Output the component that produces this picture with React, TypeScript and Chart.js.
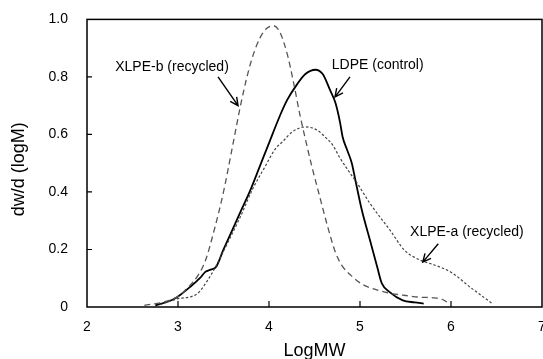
import React, { useEffect, useRef } from 'react';
import { Chart, registerables } from 'chart.js';

Chart.register(...registerables);

// ---- Data ----
const ldpeX = [2.75, 2.9, 2.99, 3.13, 3.24, 3.3, 3.36, 3.42, 3.5, 3.6, 3.7, 3.8, 3.9, 4.0, 4.12, 4.2, 4.31, 4.4, 4.51, 4.59, 4.67, 4.73, 4.78, 4.81, 4.86, 4.91, 4.95, 5.02, 5.11, 5.19, 5.24, 5.33, 5.47, 5.6, 5.7];
const ldpeY = [0.006, 0.02, 0.034, 0.069, 0.1, 0.122, 0.13, 0.14, 0.2, 0.27, 0.34, 0.41, 0.49, 0.57, 0.665, 0.72, 0.775, 0.81, 0.825, 0.81, 0.755, 0.71, 0.643, 0.59, 0.545, 0.5, 0.44, 0.337, 0.232, 0.138, 0.082, 0.051, 0.023, 0.016, 0.012];

const xlpeBX = [2.63, 2.85, 3.0, 3.1, 3.22, 3.3, 3.4, 3.5, 3.6, 3.7, 3.8, 3.9, 3.98, 4.05, 4.12, 4.2, 4.27, 4.34, 4.41, 4.47, 4.54, 4.64, 4.73, 4.8, 4.9, 5.03, 5.2, 5.33, 5.5, 5.66, 5.8, 5.9, 5.99];
const xlpeBY = [0.006, 0.018, 0.037, 0.065, 0.11, 0.16, 0.27, 0.4, 0.56, 0.72, 0.85, 0.935, 0.97, 0.978, 0.955, 0.88, 0.78, 0.668, 0.57, 0.49, 0.405, 0.285, 0.19, 0.145, 0.11, 0.078, 0.058, 0.048, 0.04, 0.034, 0.032, 0.027, 0.01];

const xlpeAX = [2.8, 2.99, 3.21, 3.32, 3.41, 3.54, 3.68, 3.82, 3.96, 4.07, 4.15, 4.26, 4.4, 4.53, 4.62, 4.7, 4.78, 4.87, 4.97, 5.11, 5.33, 5.49, 5.66, 5.78, 5.91, 6.02, 6.21, 6.45];
const xlpeAY = [0.008, 0.028, 0.046, 0.09, 0.138, 0.22, 0.31, 0.41, 0.49, 0.55, 0.575, 0.61, 0.626, 0.615, 0.59, 0.563, 0.518, 0.475, 0.43, 0.36, 0.267, 0.197, 0.163, 0.15, 0.135, 0.117, 0.069, 0.013];

const xTickValues = [2, 3, 4, 5, 6, 7];
const yTickValues = [0, 0.2, 0.4, 0.6, 0.8, 1.0];

const xTitle = 'LogMW';
const yTitle = 'dw/d (logM)';

// annotation text and arrows in data coordinates
const annotations = [
  { text: 'XLPE-b (recycled)', tx: 2.31, ty: 0.833, ax0: 3.44, ay0: 0.8, ax1: 3.66, ay1: 0.7 },
  { text: 'LDPE (control)', tx: 4.69, ty: 0.84, ax0: 4.89, ay0: 0.8, ax1: 4.725, ay1: 0.73 },
  { text: 'XLPE-a (recycled)', tx: 5.55, ty: 0.26, ax0: 5.86, ay0: 0.22, ax1: 5.69, ay1: 0.156 },
];

const FONT = "'Liberation Sans', Arial, sans-serif";

const toPts = (xs: number[], ys: number[]) => xs.map((x, i) => ({ x, y: ys[i] }));

const framePlugin = {
  id: 'frameAndText',
  afterDraw(chart: any) {
    const { ctx, chartArea, scales } = chart;
    const { left, right, top, bottom } = chartArea;
    const xs = scales.x;
    const ys = scales.y;
    ctx.save();
    ctx.strokeStyle = '#000';
    ctx.lineWidth = 1.5;
    ctx.strokeRect(left, top, right - left, bottom - top);
    // inward tick marks
    ctx.lineWidth = 1.2;
    ctx.beginPath();
    xTickValues.slice(1, -1).forEach((v) => {
      const px = xs.getPixelForValue(v);
      ctx.moveTo(px, bottom);
      ctx.lineTo(px, bottom - 6);
    });
    yTickValues.slice(1, -1).forEach((v) => {
      const py = ys.getPixelForValue(v);
      ctx.moveTo(left, py);
      ctx.lineTo(left + 5, py);
    });
    ctx.stroke();

    // axis titles
    ctx.fillStyle = '#000';
    ctx.font = `18px ${FONT}`;
    ctx.textAlign = 'center';
    ctx.textBaseline = 'middle';
    ctx.fillText(xTitle, (left + right) / 2, 351);
    ctx.save();
    ctx.translate(19, (top + bottom) / 2 + 6);
    ctx.rotate(-Math.PI / 2);
    ctx.fillText(yTitle, 0, 0);
    ctx.restore();

    // annotations
    ctx.font = `14px ${FONT}`;
    ctx.textAlign = 'left';
    ctx.textBaseline = 'middle';
    ctx.lineWidth = 1.4;
    annotations.forEach((a) => {
      ctx.fillText(a.text, xs.getPixelForValue(a.tx), ys.getPixelForValue(a.ty));
      const x0 = xs.getPixelForValue(a.ax0);
      const y0 = ys.getPixelForValue(a.ay0);
      const x1 = xs.getPixelForValue(a.ax1);
      const y1 = ys.getPixelForValue(a.ay1);
      const ang = Math.atan2(y1 - y0, x1 - x0);
      const hl = 9;
      const spread = 0.45;
      ctx.beginPath();
      ctx.moveTo(x0, y0);
      ctx.lineTo(x1, y1);
      ctx.moveTo(x1 - hl * Math.cos(ang - spread), y1 - hl * Math.sin(ang - spread));
      ctx.lineTo(x1, y1);
      ctx.lineTo(x1 - hl * Math.cos(ang + spread), y1 - hl * Math.sin(ang + spread));
      ctx.stroke();
    });
    ctx.restore();
  },
};

export default function App() {
  const ref = useRef<HTMLCanvasElement | null>(null);
  useEffect(() => {
    if (!ref.current) return;
    const chart = new Chart(ref.current, {
      type: 'line',
      data: {
        datasets: [
          {
            label: 'XLPE-b (recycled)',
            data: toPts(xlpeBX, xlpeBY),
            borderColor: '#555',
            borderWidth: 1.3,
            borderDash: [6, 4],
            pointRadius: 0,
            cubicInterpolationMode: 'monotone',
            fill: false,
          },
          {
            label: 'XLPE-a (recycled)',
            data: toPts(xlpeAX, xlpeAY),
            borderColor: '#444',
            borderWidth: 1.2,
            borderDash: [2.5, 2],
            pointRadius: 0,
            cubicInterpolationMode: 'monotone',
            fill: false,
          },
          {
            label: 'LDPE (control)',
            data: toPts(ldpeX, ldpeY),
            borderColor: '#000',
            borderWidth: 1.8,
            pointRadius: 0,
            cubicInterpolationMode: 'monotone',
            fill: false,
          },
        ],
      },
      options: {
        responsive: false,
        animation: false,
        parsing: true,
        layout: { padding: { top: 19, right: 1, bottom: 0, left: 0 } },
        plugins: { legend: { display: false }, tooltip: { enabled: false } },
        scales: {
          x: {
            type: 'linear',
            min: 2,
            max: 7,
            afterBuildTicks: (s: any) => {
              s.ticks = xTickValues.map((v) => ({ value: v }));
            },
            ticks: {
              font: { size: 14, family: FONT },
              color: '#000',
              padding: 4,
              maxRotation: 0,
              callback: (v: any) => String(v),
            },
            grid: { display: false },
            border: { display: false },
            afterFit: (s: any) => {
              s.height = 52;
              s.paddingLeft = 0;
              s.paddingRight = 0;
            },
          },
          y: {
            type: 'linear',
            min: 0,
            max: 1,
            afterBuildTicks: (s: any) => {
              s.ticks = yTickValues.map((v) => ({ value: v }));
            },
            ticks: {
              font: { size: 14, family: FONT },
              color: '#000',
              padding: 11,
              callback: (v: any) => (Number(v) === 0 ? '0' : Number(v).toFixed(1)),
            },
            grid: { display: false },
            border: { display: false },
            afterFit: (s: any) => {
              s.width = 87;
            },
          },
        },
      },
      plugins: [framePlugin],
    } as any);
    return () => chart.destroy();
  }, []);
  return (
    <div style={{ position: 'fixed', left: 0, top: 0, width: 543, height: 359, background: '#fff' }}>
      <canvas ref={ref} width={543} height={359} style={{ display: 'block' }} />
    </div>
  );
}
